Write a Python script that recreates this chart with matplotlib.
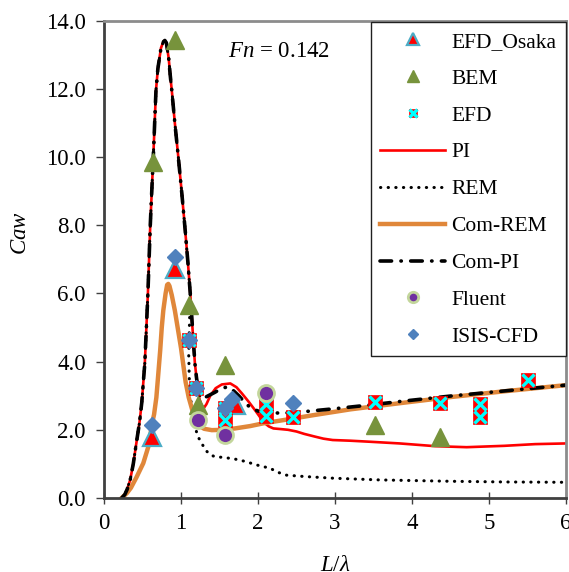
import numpy as np
import matplotlib
matplotlib.use("Agg")
import matplotlib.pyplot as plt
from matplotlib.legend_handler import HandlerTuple

plt.rcParams['font.family'] = ['Liberation Serif', 'DejaVu Serif']
plt.rcParams['mathtext.fontset'] = 'custom'
plt.rcParams['mathtext.rm'] = 'Liberation Serif'
plt.rcParams['mathtext.it'] = 'Liberation Serif:italic'

# measured / computed added-resistance coefficient vs L/lambda
osaka_x = [0.62, 0.92, 1.72]
osaka_y = [1.80, 6.73, 2.73]

bem_x = [0.64, 0.92, 1.10, 1.22, 1.57, 3.52, 4.36]
bem_y = [9.86, 13.43, 5.66, 2.73, 3.90, 2.14, 1.80]

efd_x = [1.10, 1.20, 1.57, 1.57, 2.10, 2.10, 2.46, 3.52, 4.36, 4.88, 4.88, 5.51]
efd_y = [4.63, 3.22, 2.64, 2.29, 2.76, 2.40, 2.38, 2.82, 2.78, 2.76, 2.38, 3.46]

fluent_x = [1.22, 1.57, 2.11]
fluent_y = [2.30, 1.85, 3.07]

isis_x = [0.62, 0.92, 1.10, 1.20, 1.57, 1.66, 2.46]
isis_y = [2.14, 7.08, 4.63, 3.22, 2.64, 2.90, 2.78]

# shared branch of PI / Com-PI / REM up to the first trough
rise_x = [0.23, 0.27, 0.30, 0.34, 0.38, 0.42, 0.46, 0.49, 0.53, 0.57, 0.60, 0.64,
          0.675, 0.70, 0.74, 0.77, 0.79, 0.81, 0.84, 0.86, 0.88, 0.92, 0.965,
          1.01, 1.05, 1.09, 1.12, 1.15, 1.18, 1.20]
rise_y = [0.00, 0.10, 0.25, 0.53, 1.00, 1.61, 2.20, 2.79, 3.96, 6.00, 7.96, 10.0,
          11.96, 12.60, 13.20, 13.38, 13.42, 13.35, 12.90, 12.40, 11.96, 11.00, 10.0,
          8.95, 7.96, 6.90, 6.00, 4.95, 3.96, 3.55]

pi_x = rise_x + [1.22, 1.24, 1.27, 1.30, 1.33, 1.38, 1.45, 1.53, 1.64, 1.72, 1.79,
                 1.88, 1.96, 2.03, 2.09, 2.14, 2.20, 2.30, 2.39, 2.50, 2.60, 2.74,
                 2.85, 2.97, 3.20, 3.45, 3.84, 4.30, 4.71, 5.20, 5.60, 6.00]
pi_y = rise_y + [3.20, 2.90, 2.70, 2.65, 2.75, 3.00, 3.22, 3.33, 3.36, 3.25, 3.07,
                 2.82, 2.58, 2.36, 2.19, 2.10, 2.04, 2.02, 2.00, 1.95, 1.88, 1.80,
                 1.74, 1.70, 1.68, 1.65, 1.60, 1.52, 1.49, 1.53, 1.58, 1.60]

compi_x = rise_x + [1.22, 1.25, 1.28, 1.33, 1.44, 1.53, 1.61, 1.68, 1.75, 1.83,
                    1.90, 2.00, 2.15, 2.30, 2.50, 2.68, 3.00, 3.50, 3.84, 4.50,
                    5.20, 6.00]
compi_y = rise_y + [3.20, 2.97, 2.90, 2.97, 3.10, 3.22, 3.26, 3.15, 3.00, 2.80,
                    2.65, 2.55, 2.50, 2.49, 2.51, 2.55, 2.62, 2.74, 2.83, 2.99,
                    3.14, 3.31]

rem_x = rise_x[:27] + [1.10, 1.11, 1.14, 1.18, 1.22, 1.27, 1.32, 1.38, 1.44, 1.55,
                       1.68, 1.77, 1.88, 1.98, 2.16, 2.25, 2.37, 2.60, 2.98, 3.58,
                       4.50, 5.20, 6.00]
rem_y = rise_y[:27] + [4.20, 3.30, 2.60, 2.10, 1.80, 1.60, 1.40, 1.27, 1.21, 1.19,
                       1.15, 1.11, 1.04, 0.97, 0.87, 0.76, 0.67, 0.63, 0.58, 0.53,
                       0.49, 0.47, 0.46]

comrem_x = [0.23, 0.30, 0.35, 0.42, 0.51, 0.575, 0.60, 0.62, 0.65, 0.68, 0.70, 0.73,
            0.75, 0.77, 0.80, 0.82, 0.835, 0.85, 0.88, 0.92, 0.96, 1.00, 1.03, 1.06,
            1.10, 1.15, 1.20, 1.25, 1.30, 1.40, 1.55, 1.70, 1.90, 2.07, 2.40, 2.72,
            3.20, 3.84, 4.50, 5.20, 6.00]
comrem_y = [0.00, 0.15, 0.30, 0.60, 1.02, 1.50, 1.80, 2.14, 2.45, 2.95, 3.50, 4.34,
            5.00, 5.50, 6.00, 6.25, 6.28, 6.22, 5.95, 5.50, 4.95, 4.40, 3.90, 3.40,
            2.95, 2.55, 2.25, 2.10, 2.03, 1.99, 2.00, 2.04, 2.11, 2.19, 2.31, 2.43,
            2.60, 2.78, 2.96, 3.13, 3.31]

fig = plt.figure(figsize=(5.69, 5.72), dpi=100)
ax = fig.add_axes([0.1828, 0.1294, 0.8119, 0.8344])

# lines first, markers above them
l_pi, = ax.plot(pi_x, pi_y, color='#FF0000', lw=1.9, zorder=2)
l_rem, = ax.plot(rem_x, rem_y, color='black', lw=2.2, ls=(0, (0.1, 2.4)),
                 dash_capstyle='round', zorder=2.1)
l_crem, = ax.plot(comrem_x, comrem_y, color='#E0873A', lw=3.2, zorder=2.2)
l_cpi, = ax.plot(compi_x, compi_y, color='black', lw=2.6, ls=(0, (3.2, 2.6, 0.1, 2.6)),
                 dash_capstyle='round', zorder=2.3)

m_osaka, = ax.plot(osaka_x, osaka_y, ls='none', marker='^', ms=13, mfc='#FF0000',
                   mec='#4BACC6', mew=1.6, zorder=3)
m_bem, = ax.plot(bem_x, bem_y, ls='none', marker='^', ms=13, mfc='#77933C',
                 mec='#77933C', zorder=3.1)
m_efd_sq, = ax.plot(efd_x, efd_y, ls='none', marker='s', ms=9.5, mfc='#FF0000',
                    mec='#FF0000', mew=0.5, zorder=3.2)
m_efd_x, = ax.plot(efd_x, efd_y, ls='none', marker='x', ms=8.5, mec='#00FFFF',
                   mew=2.4, zorder=3.3)
m_fluent, = ax.plot(fluent_x, fluent_y, ls='none', marker='o', ms=11.5, mfc='#7030A0',
                    mec='#C3D69B', mew=2, zorder=3.4)
m_isis, = ax.plot(isis_x, isis_y, ls='none', marker='D', ms=8.2, mfc='#4F81BD',
                  mec='#4F81BD', zorder=3.5)

ax.set_xlim(0, 6)
ax.set_ylim(0, 14)
ax.set_xticks(range(0, 7))
ax.set_yticks(np.arange(0, 15, 2))
ax.set_yticklabels(['%.1f' % v for v in np.arange(0, 15, 2)])
ax.tick_params(axis='x', direction='inout', length=9, width=1, labelsize=16.5, pad=6,
               color='#404040')
ax.tick_params(axis='y', direction='out', length=6, width=1, labelsize=16.5, pad=7,
               color='#404040')

for side in ['left', 'bottom']:
    ax.spines[side].set_color('#404040')
    ax.spines[side].set_linewidth(2)
for side in ['top', 'right']:
    ax.spines[side].set_color('#8C8C8C')
    ax.spines[side].set_linewidth(2)

ax.set_xlabel(r'$L/\lambda$', fontsize=16.5)
ax.xaxis.set_label_coords(0.5, -0.12)
ax.set_ylabel(r'$Caw$', fontsize=16.5)
ax.yaxis.set_label_coords(-0.157, 0.555)

ax.text(0.268, 0.924, r'$Fn$ = 0.142', transform=ax.transAxes, fontsize=16.5,
        va='baseline', ha='left')

handles = [m_osaka, m_bem, (m_efd_sq, m_efd_x), l_pi, l_rem, l_crem, l_cpi,
           m_fluent, m_isis]
labels = ['EFD_Osaka', 'BEM', 'EFD', 'PI', 'REM', 'Com-REM', 'Com-PI',
          'Fluent', 'ISIS-CFD']
leg = ax.legend(handles, labels, loc='upper right', bbox_to_anchor=(1.0, 0.997),
                fontsize=15.5, frameon=True, fancybox=False, framealpha=1,
                edgecolor='#202020', borderaxespad=0, handlelength=3.0,
                handletextpad=0.3, labelspacing=0.78, markerscale=0.65,
                borderpad=0.45, handler_map={tuple: HandlerTuple(ndivide=1, pad=0)})
leg.get_frame().set_linewidth(1)
leg.set_zorder(5)

fig.savefig('out.png', dpi=100)
